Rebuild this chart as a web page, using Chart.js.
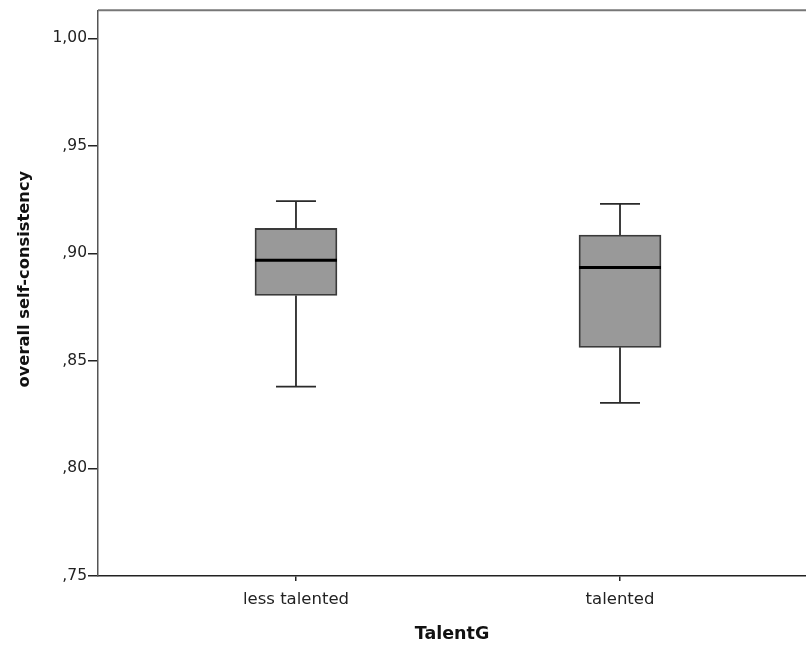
<!DOCTYPE html>
<html>
<head>
<meta charset="utf-8">
<script src="https://cdn.jsdelivr.net/npm/chart.js@4.4.1/dist/chart.umd.min.js"></script>
<style>
  html, body { margin: 0; padding: 0; background: #ffffff; }
  #wrap { width: 806px; height: 645px; }
</style>
</head>
<body>
<div id="wrap"><canvas id="c" width="806" height="645"></canvas></div>
<script>
// ---- data ----
const categories = ["less talented", "talented"];
const whiskerLow  = [0.838, 0.8305];
const q1Values    = [0.8804, 0.8563];
const medians     = [0.8968, 0.8934];
const q3Values    = [0.9116, 0.9085];
const whiskerHigh = [0.9243, 0.9230];
const yTicks      = [0.75, 0.80, 0.85, 0.90, 0.95, 1.00];
const yTickLabels = [",75", ",80", ",85", ",90", ",95", "1,00"];
const yTitle = "overall self-consistency";
const xTitle = "TalentG";

const positions = categories.map((_, i) => i + 1);

const boxPlugin = {
  id: 'boxWhiskers',
  afterDatasetsDraw(chart) {
    const ctx = chart.ctx;
    const xs = chart.scales.x, ys = chart.scales.y;
    ctx.save();
    positions.forEach((p, i) => {
      const cx = xs.getPixelForValue(p);
      const capHalf = 20;
      const yLo = ys.getPixelForValue(whiskerLow[i]);
      const yQ1 = ys.getPixelForValue(q1Values[i]);
      const yQ3 = ys.getPixelForValue(q3Values[i]);
      const yHi = ys.getPixelForValue(whiskerHigh[i]);
      const yMed = ys.getPixelForValue(medians[i]);
      ctx.strokeStyle = '#2a2a2a';
      ctx.lineWidth = 1.8;
      ctx.beginPath();
      ctx.moveTo(cx, yQ3); ctx.lineTo(cx, yHi);
      ctx.moveTo(cx, yQ1); ctx.lineTo(cx, yLo);
      ctx.moveTo(cx - capHalf, yHi); ctx.lineTo(cx + capHalf, yHi);
      ctx.moveTo(cx - capHalf, yLo); ctx.lineTo(cx + capHalf, yLo);
      ctx.stroke();
      const meta = chart.getDatasetMeta(0).data[i];
      const half = meta.width / 2;
      ctx.strokeStyle = '#000000';
      ctx.lineWidth = 3;
      ctx.beginPath();
      ctx.moveTo(cx - half, yMed); ctx.lineTo(cx + half, yMed);
      ctx.stroke();
    });
    const a = chart.chartArea;
    ctx.strokeStyle = '#777777';
    ctx.lineWidth = 2;
    ctx.beginPath();
    ctx.moveTo(a.left, a.top); ctx.lineTo(a.right, a.top);
    ctx.stroke();
    ctx.restore();
  },
  afterDraw(chart) {
    const ctx = chart.ctx;
    const a = chart.chartArea;
    ctx.save();
    ctx.translate(25, (a.top + a.bottom) / 2 - 14);
    ctx.rotate(-Math.PI / 2);
    ctx.font = 'bold 16.3px "DejaVu Sans"';
    ctx.fillStyle = '#111111';
    ctx.textAlign = 'center';
    ctx.textBaseline = 'middle';
    ctx.fillText(yTitle, 0, 0);
    ctx.restore();
  }
};

new Chart(document.getElementById('c'), {
  type: 'bar',
  data: {
    datasets: [{
      data: positions.map((p, i) => ({ x: p, y: [q1Values[i], q3Values[i]] })),
      backgroundColor: '#999999',
      borderColor: '#3a3a3a',
      borderWidth: 1.8,
      borderSkipped: false,
      barThickness: 82
    }]
  },
  options: {
    responsive: false,
    animation: false,
    devicePixelRatio: 1,
    layout: { padding: { top: 10, right: 0, left: 0, bottom: 0 } },
    plugins: { legend: { display: false }, tooltip: { enabled: false } },
    scales: {
      x: {
        type: 'linear',
        offset: false,
        min: 0.389,
        max: 2.574,
        afterBuildTicks: (axis) => { axis.ticks = positions.map(v => ({ value: v })); },
        afterFit: (axis) => { axis.height = 69; },
        ticks: {
          callback: (v) => categories[positions.indexOf(v)] ?? '',
          font: { family: 'DejaVu Sans', size: 16.5 },
          color: '#222222',
          padding: 9,
          maxRotation: 0
        },
        grid: { offset: false, drawOnChartArea: false, drawTicks: true, tickLength: 5, color: '#222222', lineWidth: 1.5 },
        border: { display: true, color: '#222222', width: 1.5 },
        title: {
          display: true, text: xTitle,
          font: { family: 'DejaVu Sans', size: 17.5, weight: 'bold' },
          color: '#111111',
          padding: { top: 0, bottom: 0 }
        }
      },
      y: {
        min: 0.75,
        max: 1.013,
        afterBuildTicks: (axis) => { axis.ticks = yTicks.map(v => ({ value: v })); },
        afterFit: (axis) => { axis.width = 98; },
        ticks: {
          callback: (v) => yTickLabels[yTicks.findIndex(t => Math.abs(t - v) < 1e-9)] ?? '',
          font: { family: 'DejaVu Sans', size: 15.5 },
          color: '#222222',
          padding: 1
        },
        grid: { drawOnChartArea: false, drawTicks: true, tickLength: 10, color: '#222222', lineWidth: 1.5 },
        border: { display: true, color: '#555555', width: 1.5 },
        title: { display: false }
      }
    }
  },
  plugins: [boxPlugin]
});
</script>
</body>
</html>
